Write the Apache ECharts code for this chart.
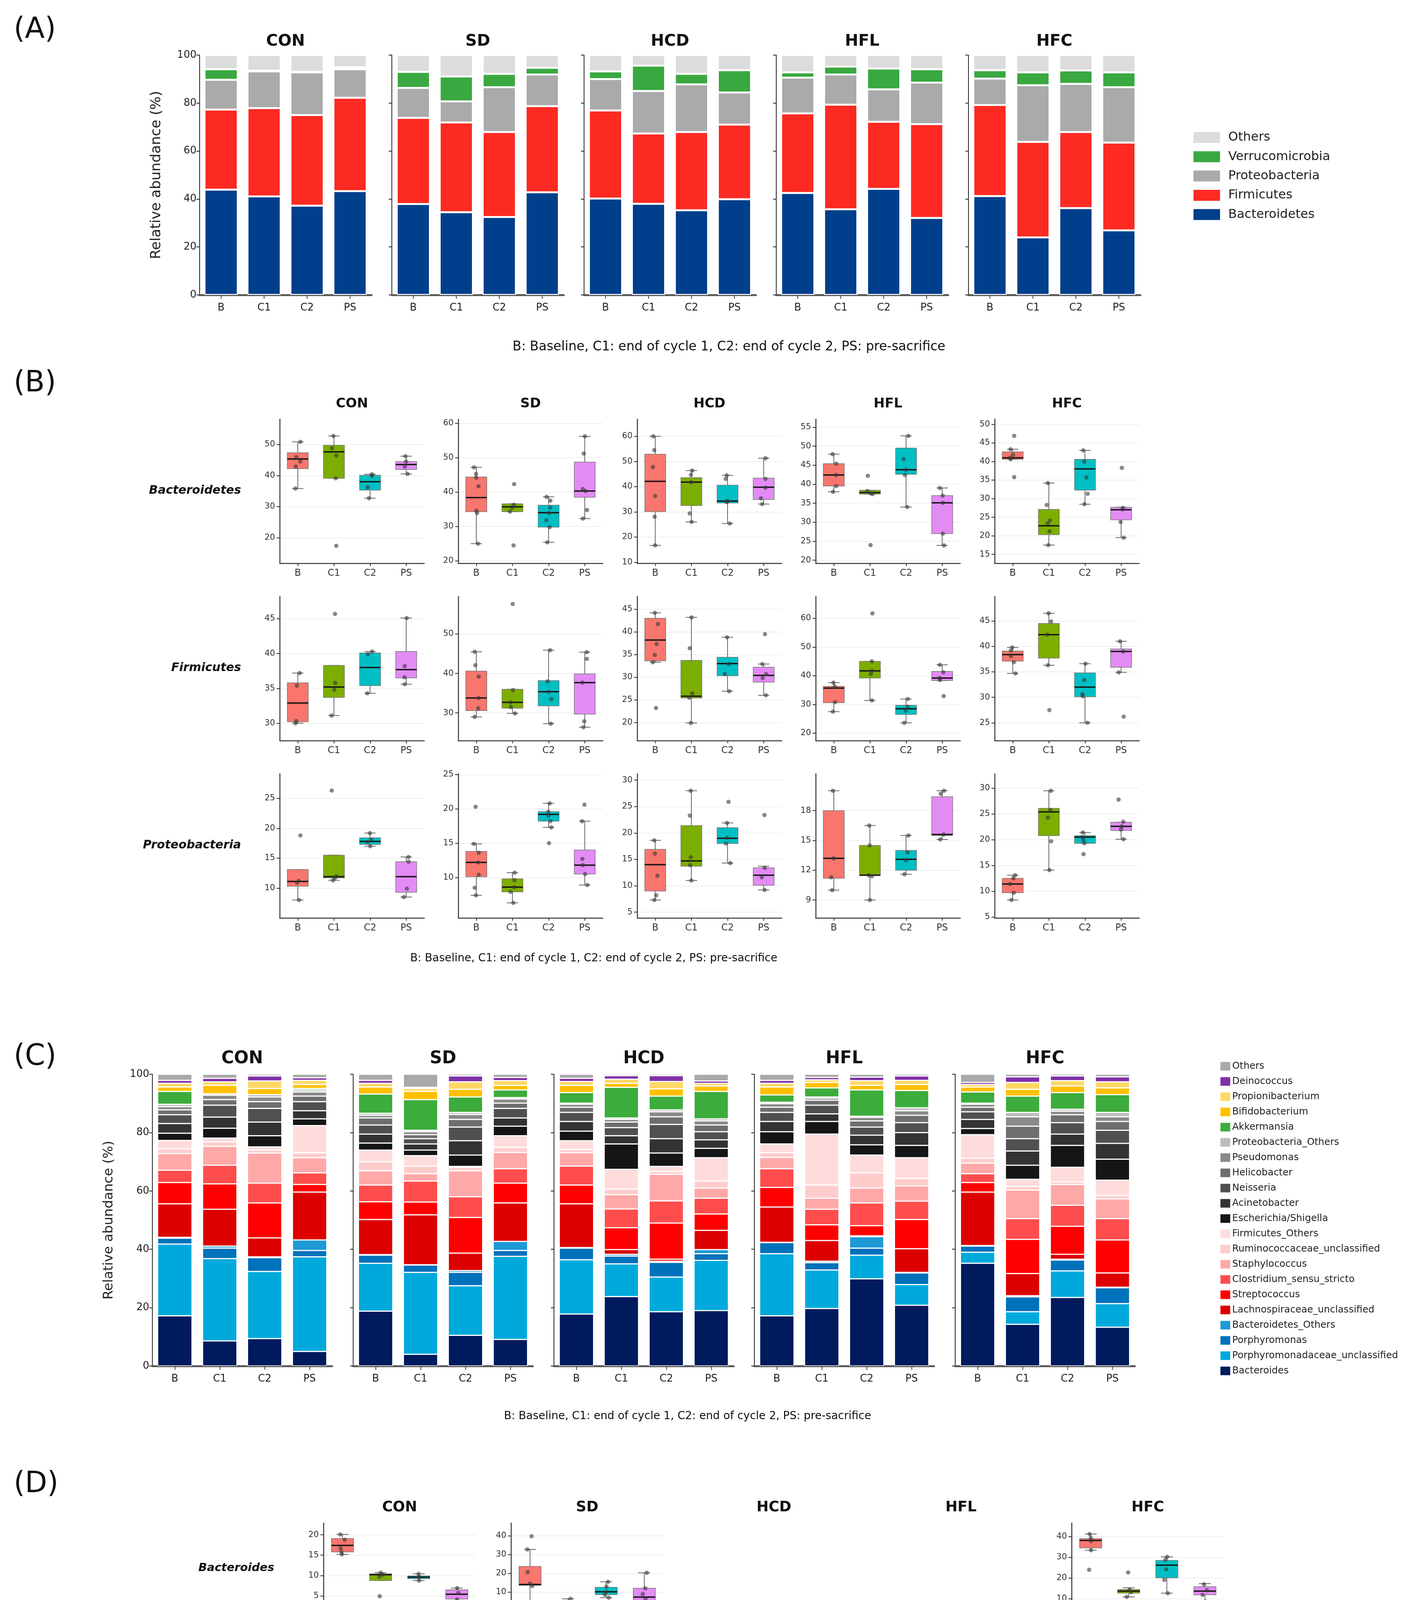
<!DOCTYPE html>
<html>
<head>
<meta charset="utf-8">
<script src="https://cdn.jsdelivr.net/npm/echarts@6/dist/echarts.min.js"></script>
<style>
html, body { margin: 0; padding: 0; background: #fff; }
#main { width: 3622px; height: 6114px; }
</style>
</head>
<body>
<div id="main"></div>
<script>
var diets = ['CON', 'SD', 'HCD', 'HFL', 'HFC'];
var timepoints = ['B', 'C1', 'C2', 'PS'];
var caption = 'B: Baseline, C1: end of cycle 1, C2: end of cycle 2, PS: pre-sacrifice';

// (A) phylum level, % per bar: CON B,C1,C2,PS | SD | HCD | HFL | HFC
var aBacteroidetes   = [43.9,41.1,37.2,43.3, 37.9,34.5,32.5,42.8, 40.2,38.0,35.3,39.9, 42.5,35.7,44.2,32.1, 41.2,24.0,36.2,26.9];
var aFirmicutes      = [33.4,36.8,37.8,38.9, 35.9,37.4,35.4,35.9, 36.7,29.3,32.6,31.1, 33.2,43.6,28.0,39.1, 38.0,39.8,31.7,36.6];
var aProteobacteria  = [12.4,15.3,17.8,11.9, 12.5,8.8,18.7,13.2, 13.1,17.7,19.9,13.4, 14.9,12.6,13.5,17.3, 11.0,23.6,20.1,23.1];
var aVerrucomicrobia = [4.4,0.3,0.2,0.8, 6.7,10.4,5.6,2.8, 3.2,10.6,4.4,9.3, 2.2,3.3,8.7,5.6, 3.5,5.4,5.6,6.2];
var aOthers          = [5.9,6.5,7.0,5.1, 7.0,8.9,7.8,5.3, 6.8,4.4,7.8,6.3, 7.2,4.8,5.6,5.9, 6.3,7.2,6.4,7.2];

// (C) genus level, cumulative top of each layer (%), same bar order as (A)
var cBacteroides     = [17.2,8.6,9.4,5.0, 18.8,4.0,10.5,9.1, 17.8,23.8,18.6,19.0, 17.2,19.7,29.9,20.8, 35.2,14.3,23.5,13.3];
var cPorphUncl       = [41.8,36.8,32.4,37.4, 35.2,32.1,27.5,37.6, 36.4,35.0,30.5,36.2, 38.5,32.9,38.0,27.9, 39.0,18.6,32.6,21.4];
var cPorphyromonas   = [43.8,40.4,37.1,39.6, 38.0,34.6,32.1,39.6, 40.4,37.7,35.5,38.5, 42.3,35.4,40.4,31.9, 41.1,23.7,36.3,26.8];
var cBactOthers      = [44.1,41.1,37.4,43.2, 38.2,34.7,32.7,42.7, 40.6,38.3,35.9,39.9, 42.4,35.9,44.3,32.1, 41.3,24.1,36.6,27.0];
var cLachnoUncl      = [55.6,53.7,43.9,59.6, 50.2,51.8,38.7,55.9, 55.6,39.9,36.6,46.5, 54.5,43.0,44.6,40.2, 59.6,31.7,38.3,31.9];
var cStreptococcus   = [62.9,62.4,55.9,62.2, 56.3,56.2,50.9,62.7, 62.0,47.4,49.0,52.1, 61.2,48.4,48.1,50.2, 62.9,43.4,47.9,43.2];
var cClostridium     = [67.1,68.8,62.7,66.2, 62.0,63.4,58.0,67.6, 68.5,53.8,56.6,57.5, 67.6,53.7,55.9,56.5, 65.9,50.5,55.1,50.5];
var cStaphylococcus  = [72.8,75.3,73.0,71.4, 66.9,65.9,66.9,73.2, 73.1,58.7,65.7,61.0, 71.5,57.5,61.0,61.7, 69.5,60.3,62.2,57.3];
var cRuminoUncl      = [74.4,76.8,74.0,73.1, 70.0,68.5,68.1,74.9, 74.2,60.6,66.7,63.4, 73.1,62.0,66.2,64.3, 71.2,61.5,63.1,58.4];
var cFirmOthers      = [77.3,78.1,75.1,82.4, 74.0,72.1,68.4,78.9, 77.2,67.4,68.4,71.4, 76.1,79.5,72.3,71.4, 79.3,64.0,68.1,63.7];
var cEscherichia     = [79.8,81.5,78.9,84.7, 76.4,74.0,72.3,82.2, 80.5,76.1,73.0,74.6, 80.3,83.8,75.8,75.6, 81.4,68.8,75.6,70.9];
var cAcinetobacter   = [83.1,85.3,83.6,87.5, 79.5,76.1,77.2,85.0, 83.8,78.9,77.9,77.5, 83.8,86.4,79.1,80.0, 84.5,73.7,79.5,76.3];
var cNeisseria       = [86.1,89.4,88.3,90.6, 82.6,77.9,81.9,88.3, 86.9,81.7,82.8,80.3, 86.9,89.4,81.9,83.4, 87.1,77.9,83.4,80.8];
var cHelicobacter    = [87.8,91.3,90.6,92.5, 85.0,79.3,84.5,90.1, 88.7,83.6,85.4,82.6, 88.7,91.1,84.0,85.9, 88.7,82.2,86.1,83.8];
var cPseudomonas     = [88.9,92.8,92.2,93.9, 85.9,80.3,86.2,91.5, 89.7,84.5,87.1,84.0, 89.9,91.8,85.2,87.5, 89.7,85.4,87.3,85.4];
var cProteoOthers    = [89.7,93.3,93.0,94.6, 86.6,80.8,86.9,92.0, 90.1,85.0,87.8,84.7, 90.4,92.2,85.6,88.5, 90.1,86.9,88.0,86.9];
var cAkkermansia     = [94.1,93.3,93.0,95.1, 93.2,91.3,92.2,94.6, 93.7,95.5,92.5,94.1, 92.9,95.3,94.6,94.4, 93.9,92.5,93.7,93.0];
var cBifido          = [95.6,96.2,95.1,96.5, 95.6,94.1,94.8,96.2, 96.2,96.9,95.0,96.0, 95.6,97.2,96.2,96.5, 95.6,94.8,96.0,95.3];
var cPropioni        = [96.9,97.4,97.7,97.9, 96.9,95.1,97.4,97.8, 97.5,98.3,97.5,96.9, 96.9,98.1,97.8,97.9, 96.5,97.2,97.8,97.4];
var cDeinococcus     = [97.9,98.6,99.4,98.8, 97.9,95.5,99.4,98.9, 98.6,99.5,99.5,97.7, 97.9,98.9,99.0,99.4, 97.2,99.1,99.4,99.1];

// (B) phyla boxplots: per diet, per timepoint [min, q1, median, q3, max]
var bBacteroidetesBox = [
  [[35.8,42.2,45.3,47.3,50.8],[39.1,39.1,47.6,49.7,52.7],[32.7,35.3,38.0,40.1,40.4],[40.5,41.9,43.5,44.5,46.2]],
  [[25.0,34.3,38.4,44.4,47.2],[34.3,34.3,35.7,36.6,36.6],[25.4,29.8,34.0,36.2,38.6],[32.3,38.5,40.3,48.7,56.2]],
  [[16.7,30.1,42.1,52.9,60.0],[26.0,32.5,41.8,43.6,46.4],[25.4,33.5,34.3,40.6,44.5],[33.1,34.9,39.8,43.4,51.3]],
  [[38.0,39.5,42.4,45.4,47.9],[37.4,37.4,37.8,38.4,38.4],[34.0,42.6,43.8,49.5,52.7],[23.9,27.0,35.1,37.0,39.0]],
  [[40.6,40.6,41.0,42.6,43.3],[17.5,20.3,22.7,27.1,34.2],[28.5,32.3,38.0,40.6,43.0],[19.5,24.3,27.0,27.7,27.7]]
];
var bBacteroidetesPts = [
  [[50.8,45.9,44.5,42.9,35.8],[52.7,48.8,46.4,39.1,17.4],[40.4,39.9,36.2,32.7],[46.2,44.5,42.9,40.5]],
  [[47.2,45.3,44.2,41.7,34.6,33.9,25.0],[42.3,36.3,35.5,34.3,24.5],[38.6,37.5,35.5,33.9,31.8,29.8,25.4],[56.2,51.2,40.9,40.3,34.8,32.3]],
  [[60.0,54.5,47.8,36.3,28.1,16.7],[46.4,44.7,41.8,29.4,26.0],[44.5,43.1,34.4,33.9,25.4],[51.3,43.1,39.6,35.4,33.1]],
  [[47.9,45.4,42.4,39.5,38.0],[42.2,38.2,37.6,37.4,24.0],[52.7,46.6,43.8,42.4,34.0],[39.0,37.0,35.1,27.0,23.9]],
  [[46.9,43.3,41.8,41.0,40.6,35.8],[34.2,28.3,24.1,23.3,21.2,17.5],[43.0,40.0,35.7,31.3,28.5],[38.3,27.5,27.1,23.7,19.5]]
];
var bBacteroidetesRange = [[11.8,58.1],[19.3,61.2],[9.6,66.8],[19.2,57.1],[12.6,51.4]];
var bBacteroidetesTicks = [[20,30,40,50],[20,30,40,50,60],[10,20,30,40,50,60],[20,25,30,35,40,45,50,55],[15,20,25,30,35,40,45,50]];

var bFirmicutesBox = [
  [[30.0,30.2,32.9,35.8,37.2],[31.1,33.7,35.2,38.3,38.3],[34.3,35.4,38.0,40.1,40.3],[35.6,36.5,37.7,40.3,45.1]],
  [[29.0,30.6,33.8,40.6,45.5],[29.9,31.2,32.7,36.0,36.0],[27.3,31.8,35.4,38.2,45.9],[26.4,29.7,37.7,39.9,45.4]],
  [[33.3,33.6,38.2,43.0,44.2],[19.9,25.4,25.8,33.7,43.2],[26.9,30.3,33.0,34.4,38.8],[26.0,28.9,30.4,32.2,32.9]],
  [[27.5,30.6,35.7,36.3,37.6],[31.4,39.2,41.7,45.0,45.0],[23.6,26.5,28.5,29.7,31.9],[38.3,38.3,39.2,41.5,43.8]],
  [[34.7,37.1,38.4,39.1,39.8],[36.3,37.7,42.3,44.5,46.5],[25.0,30.1,32.0,34.8,36.6],[34.9,35.9,39.0,39.5,41.0]]
];
var bFirmicutesPts = [
  [[37.2,35.4,30.3,30.0],[45.7,35.8,34.8,31.1],[40.3,39.9,34.3],[45.1,38.2,36.6,35.6]],
  [[45.5,42.1,39.2,33.8,31.2,29.0],[57.6,35.8,32.7,31.5,29.9],[45.9,38.0,35.4,33.5,27.3],[45.4,43.7,37.7,27.9,26.4]],
  [[44.2,41.7,37.3,34.9,33.3,23.2],[43.2,36.4,26.4,25.5,19.9],[38.8,32.9,30.7,26.9],[39.5,32.9,30.7,29.8,26.0]],
  [[37.6,36.2,30.8,27.5],[61.7,45.0,41.7,40.6,31.4],[31.9,29.2,27.8,23.6],[43.8,41.2,39.2,38.5,32.9]],
  [[39.8,39.2,38.1,36.9,34.7],[46.5,44.9,42.3,36.3,27.5],[36.6,33.4,30.6,30.2,25.0],[41.0,39.0,34.9,26.2]]
];
var bFirmicutesRange = [[27.5,48.2],[23.0,59.5],[16.0,47.8],[17.4,67.6],[21.5,49.8]];
var bFirmicutesTicks = [[30,35,40,45],[30,40,50],[20,25,30,35,40,45],[20,30,40,50,60],[25,30,35,40,45]];

var bProteobacteriaBox = [
  [[8.0,10.3,11.1,13.1,13.1],[11.3,11.7,11.9,15.5,15.5],[17.0,17.3,17.8,18.4,19.2],[8.5,9.3,11.9,14.4,15.2]],
  [[7.4,10.1,12.2,13.8,14.9],[6.3,7.9,8.6,9.8,10.7],[17.3,18.2,19.2,19.6,20.8],[8.9,10.5,11.8,14.0,18.2]],
  [[7.3,9.0,14.0,16.9,18.6],[11.0,13.7,14.7,21.4,28.0],[14.3,18.0,19.0,21.0,21.9],[9.2,10.1,12.0,13.4,13.7]],
  [[10.0,11.2,13.2,18.0,20.0],[9.0,11.5,11.5,14.5,16.5],[11.6,12.0,13.1,14.0,15.5],[15.1,15.5,15.6,19.4,20.0]],
  [[8.3,9.7,11.4,12.5,13.1],[14.1,20.8,25.4,26.1,29.5],[19.3,19.3,20.5,20.8,21.4],[20.1,21.8,22.6,23.4,23.4]]
];
var bProteobacteriaPts = [
  [[18.8,11.2,10.9,8.0],[26.3,12.0,11.7,11.3],[19.2,18.1,17.7,17.0],[15.2,14.4,9.9,8.5]],
  [[20.3,14.9,13.6,12.2,10.4,8.5,7.4],[10.7,9.6,8.6,7.9,6.3],[20.8,19.6,19.0,18.2,17.3,15.0],[20.6,18.2,12.7,11.8,10.5,8.9]],
  [[18.6,16.1,11.9,8.2,7.3],[28.0,23.3,15.4,13.9,11.0],[25.9,21.9,19.1,18.0,14.3],[23.4,13.4,11.6,9.2]],
  [[20.0,13.2,11.3,10.0],[16.5,14.5,11.5,11.4,9.0],[15.5,13.8,13.0,11.6],[20.0,19.7,15.6,15.1]],
  [[13.1,12.5,11.4,9.7,8.3],[29.5,25.8,24.3,19.7,14.1],[21.4,20.5,19.9,19.3,17.2],[27.8,23.5,22.6,22.0,20.1]]
];
var bProteobacteriaRange = [[5.0,29.1],[4.1,25.1],[3.9,31.2],[7.2,21.7],[4.8,32.8]];
var bProteobacteriaTicks = [[10,15,20,25],[10,15,20,25],[5,10,15,20,25,30],[9,12,15,18],[5,10,15,20,25,30]];

// (D) genus boxplots, null where a diet has no panel
var dBacteroidesBox = [
  [[15.2,15.8,17.4,19.1,20.1],[8.75,8.75,10.2,10.4,10.7],[8.75,9.2,9.6,9.9,10.4],[3.5,4.2,5.4,6.5,6.9]],
  [[4.3,13.6,14.1,23.7,32.7],[3.7,3.7,4.8,5.7,6.5],[7.1,8.7,10.2,12.6,15.5],[4.0,5.3,7.4,12.1,20.3]],
  null, null,
  [[33.4,34.5,38.1,39.0,41.2],[10.9,12.7,13.7,14.5,15.3],[12.7,20.1,26.2,28.5,30.2],[8.6,11.9,13.7,15.8,17.3]]
];
var dBacteroidesPts = [
  [[20.1,18.8,16.7,15.8,15.2],[10.7,10.2,9.7,4.9],[10.4,9.7,8.75],[6.9,5.7,4.1,3.5]],
  [[39.7,32.7,20.6,14.6,13.3,4.3],[6.5,4.8,4.0,0.9],[15.5,13.0,10.2,8.7,7.1],[20.3,12.1,9.0,6.4,4.0]],
  null, null,
  [[41.2,39.3,37.8,33.4,24.0],[22.7,14.4,13.2,10.9],[30.2,28.8,24.2,19.1,12.7],[17.0,14.1,11.9,8.6]]
];
var dBacteroidesRange = [[0.8,22.9],[-1,46.7],null,null,[3.2,46.5]];
var dBacteroidesTicks = [[5,10,15,20],[0,10,20,30,40],null,null,[10,20,30,40]];

var dEscherichiaBox = [
  null,
  [[1.4,1.91,2.6,2.83,3.11],[1.57,1.77,1.9,2.03,2.1],[3.54,4.06,4.26,4.43,5.06],[2.06,2.34,2.69,3.69,5.06]],
  [[1.4,2.0,3.0,4.0,4.3],[4.85,6.56,9.0,9.75,10.1],[3.7,4.56,4.85,5.64,6.39],[2.68,3.0,3.7,4.39,4.73]],
  null,
  [[1.55,1.97,2.25,2.49,2.58],[3.29,4.08,4.6,5.16,5.31],[4.13,6.1,7.5,8.22,8.6],[4.13,5.73,6.53,9.53,10.8]]
];
var dEscherichiaPts = [
  null,
  [[4.4,3.1,2.55,2.0,1.4],[2.71,2.03,1.85,1.57],[5.06,4.49,4.2,3.54],[7.83,5.06,3.29,2.63,2.06]],
  [[8.4,4.3,3.1,2.0,1.4],[14.8,10.0,9.0,5.9,4.85],[6.39,5.4,4.7,3.7],[4.73,3.8,3.1,2.68]],
  null,
  [[3.76,2.44,2.11,1.55],[8.92,5.16,4.46,3.29],[12.2,8.6,7.6,5.87,4.13],[10.8,10.5,6.8,6.3,4.13]]
];
var dEscherichiaRange = [null,[0.34,8.97],[0,17.2],null,[0,14.2]];
var dEscherichiaTicks = [null,[2,4,6,8],[0,5,10,15],null,[0,5,10]];

var dStreptococcusBox = [
  null,
  [[3.38,4.72,6.16,7.82,10.0],[3.9,3.9,4.66,5.0,5.5],[11.9,11.9,12.6,12.9,13.6],[4.2,5.8,7.0,9.1,10.0]],
  [[3.68,4.66,6.44,8.39,8.74],[4.66,5.11,5.98,10.46,12.1],[11.72,11.72,12.18,12.87,13.16],[3.97,4.66,5.69,6.84,7.53]],
  null,
  [[0.24,0.96,4.04,5.54,7.35],[8.98,10.3,11.8,13.8,15.0],[7.35,7.65,10.0,11.57,12.4],[8.98,10.06,10.96,12.17,12.3]]
];
var dStreptococcusPts = [
  null,
  [[13.1,10.0,7.1,5.5,3.38,0.16],[6.75,5.0,4.4,3.9,1.66],[13.6,12.9,12.3,11.1,10.2],[13.7,10.0,8.2,6.9,4.2,0.16]],
  [[8.74,8.39,6.55,5.11,3.68],[12.1,11.84,6.5,5.69,4.66],[16.5,13.0,12.4,11.84,9.4],[7.53,6.55,5.69,4.25,3.97]],
  null,
  [[7.35,5.54,4.04,3.25,0.24],[15.0,12.9,11.7,10.5,8.98],[12.4,11.57,9.4,7.5],[15.4,12.17,11.1,10.06,8.98]]
];
var dStreptococcusRange = [null,[0,16.1],[1.5,18.8],null,[0,18.2]];
var dStreptococcusTicks = [null,[0,5,10,15],[5,10,15],null,[0,5,10,15]];

var dHelicobacterBox = [
  null,
  [[0.92,1.32,1.64,1.93,2.85],[0.95,1.06,1.21,1.35,1.49],[1.97,2.37,2.6,2.71,2.79],[1.0,1.34,1.38,1.69,1.84]],
  null,
  [[1.5,1.61,1.74,1.84,1.84],[1.25,1.25,1.29,1.36,1.4],[1.25,1.39,1.53,1.71,2.06],[1.82,2.01,2.16,2.86,3.05]],
  [[0.95,1.27,1.43,1.67,1.83],[1.8,3.0,5.9,9.2,15.7],[1.6,2.06,2.46,2.86,3.35],[1.6,2.3,2.86,3.25,3.25]]
];
var dHelicobacterPts = [
  null,
  [[2.85,1.95,1.8,1.55,1.2,0.92],[1.5,1.35,1.2,1.05,0.95],[2.79,2.7,2.6,2.5,2.15,1.97],[2.79,1.84,1.6,1.4,1.35,1.0]],
  null,
  [[2.53,1.84,1.7,1.5],[2.29,1.38,1.3,1.25,0.86],[2.06,1.7,1.55,1.45,1.25],[3.05,2.2,2.1,1.82]],
  [[1.8,1.5,1.3,0.95],[15.7,9.8,7.5,4.5,1.8],[4.6,2.9,2.5,2.1,1.6],[4.6,3.2,2.9,2.4,1.6]]
];
var dHelicobacterRange = [null,[0.59,3.18],null,[0.45,3.43],[0,18.2]];
var dHelicobacterTicks = [null,[1,2,3],null,[1,2,3],[0,5,10,15]];

var dAcinetobacterBox = [
  null,
  [[1.88,2.39,3.04,4.0,5.46],[1.93,1.93,2.16,2.39,2.65],[4.27,4.76,5.33,5.43,5.51],[2.0,2.52,2.78,3.22,3.7]],
  [[1.72,2.4,3.19,3.7,4.31],[1.62,1.86,2.03,3.8,4.83],[3.63,4.55,4.96,5.27,5.4],[1.86,2.3,2.44,2.67,2.88]],
  null,
  [[2.19,2.86,3.08,3.29,3.75],[3.08,3.42,4.45,5.65,6.56],[2.28,2.92,4.15,4.91,5.06],[3.08,4.67,5.58,6.1,7.3]]
];
var dAcinetobacterPts = [
  null,
  [[5.46,4.3,3.6,3.2,2.8,2.2,1.88],[2.65,2.4,2.2,2.0,1.13],[5.5,5.35,5.2,4.27,3.73],[5.38,3.7,3.2,2.8,2.5,2.0]],
  [[4.31,4.0,3.2,2.5,1.72],[4.83,4.5,2.1,1.9,1.62],[7.35,5.4,5.0,4.7,3.63],[4.55,2.8,2.5,2.3,1.86]],
  null,
  [[3.75,3.3,3.1,2.9,2.19],[6.56,5.1,4.4,3.5,3.08],[5.06,4.8,3.7,2.9,2.28],[7.3,6.05,5.2,4.7,3.08]]
];
var dAcinetobacterRange = [null,[0.3,6.23],[0.53,8.38],null,[1.2,8.24]];
var dAcinetobacterTicks = [null,[2,4,6],[2,4,6,8],null,[2,4,6,8]];

var dLachnoBox = [
  null, null,
  [[9.0,11.7,14.7,17.5,23.8],[0,0.74,2.35,3.1,3.9],[0,0,0.9,2.5,3.2],[3.2,4.3,4.8,8.1,12.5]],
  null,
  [[13.2,16.0,18.2,18.7,18.8],[1.0,3.6,6.7,12.3,15.2],[0.1,0.1,0.5,2.4,3.2],[0.2,3.6,4.5,7.0,9.6]]
];
var dLachnoPts = [
  null, null,
  [[23.8,17.4,15.5,12.5,11.5,9.0],[3.9,3.2,2.5,1.8,0.5],[3.2,2.4,1.2,0.5,0],[12.5,8.5,5.2,4.0,3.2]],
  null,
  [[25.1,18.8,18.0,16.0,13.2],[15.2,10.5,7.0,4.0,1.0],[7.2,3.0,1.0,0.3],[9.6,7.5,5.0,4.2,0.2]]
];
var dLachnoRange = [null,null,[0,28.4],null,[0,29.9]];
var dLachnoTicks = [null,null,[0,10,20],null,[0,10,20]];

var dPorphUnclBox = [
  null, null, null,
  [[7.0,15.1,21.0,25.8,36.4],[11.2,11.2,12.6,14.3,15.1],[0.6,5.7,8.9,11.2,14.3],[1.5,2.4,4.9,8.4,16.8]],
  null
];
var dPorphUnclPts = [
  null, null, null,
  [[36.4,25.8,21.0,15.1,7.0],[22.0,14.5,12.5,11.5,5.3],[14.3,11.0,9.0,6.0,0.6],[16.8,8.0,5.0,3.0,1.5]],
  null
];
var dPorphUnclRange = [null,null,null,[0,43.4],null];
var dPorphUnclTicks = [null,null,null,[0,10,20,30,40],null];

// ---------- styles / layout ----------
var FONT = 'DejaVu Sans';
var boxFill = ['#F8766D', '#7CAE00', '#00BFC4', '#E38BF5'];
var aNames = ['Bacteroidetes', 'Firmicutes', 'Proteobacteria', 'Verrucomicrobia', 'Others'];
var aColors = ['#003f8c', '#fc2a22', '#aaaaaa', '#3aa840', '#dcdcdc'];
var cNames = ['Bacteroides', 'Porphyromonadaceae_unclassified', 'Porphyromonas', 'Bacteroidetes_Others',
  'Lachnospiraceae_unclassified', 'Streptococcus', 'Clostridium_sensu_stricto', 'Staphylococcus',
  'Ruminococcaceae_unclassified', 'Firmicutes_Others', 'Escherichia/Shigella', 'Acinetobacter', 'Neisseria',
  'Helicobacter', 'Pseudomonas', 'Proteobacteria_Others', 'Akkermansia', 'Bifidobacterium',
  'Propionibacterium', 'Deinococcus', 'Others (genus)'];
var cColors = ['#001a5e', '#00a9dc', '#0071bb', '#1e9ad6', '#dd0000', '#ff0000', '#ff4d4d', '#ffa8a8',
  '#ffcccc', '#ffdcdc', '#151515', '#333333', '#505050', '#6e6e6e', '#8a8a8a', '#bdbdbd',
  '#3cac3c', '#ffc000', '#ffd966', '#8031a7', '#a9a9a9'];

var grid = [], xAxis = [], yAxis = [], series = [], graphic = [];

function addGrid(box, xOpt, yOpt) {
  var i = grid.length;
  grid.push({ left: box[0], top: box[1], width: box[2], height: box[3] });
  xAxis.push(Object.assign({ gridIndex: i, type: 'category', data: timepoints }, xOpt));
  yAxis.push(Object.assign({ gridIndex: i, type: 'value' }, yOpt));
  return i;
}

function text(x, y, s, size, extra) {
  graphic.push({
    type: 'text', x: x, y: y, silent: true,
    style: Object.assign({
      text: s, fontSize: size, fontFamily: FONT, fill: '#111',
      textAlign: 'center', textVerticalAlign: 'middle', align: 'center', verticalAlign: 'middle'
    }, extra || {})
  });
}

function stackedPanel(box, d, showLabels, layers, colors, names, o) {
  var g = addGrid(box, {
    axisLine: { onZero: false, lineStyle: { color: '#5a5a5a', width: 5 } },
    axisTick: { show: true, alignWithLabel: true, length: 10, lineStyle: { color: '#444', width: 2 } },
    axisLabel: { fontSize: o.label, color: '#222', margin: 20, fontFamily: FONT }
  }, {
    min: 0, max: 100, interval: 20,
    name: showLabels ? 'Relative abundance (%)' : '',
    nameLocation: 'middle', nameGap: o.nameGap, nameRotate: 90,
    nameTextStyle: { fontSize: o.nameSize, color: '#222', fontFamily: FONT },
    axisLine: { show: true, lineStyle: { color: '#222', width: 2 } },
    axisTick: { show: true, length: 8, lineStyle: { color: '#222', width: 2 } },
    axisLabel: { show: showLabels, fontSize: o.label, color: '#222', fontFamily: FONT },
    splitLine: { show: false }
  });
  layers.forEach(function (vals, k) {
    series.push({
      type: 'bar', name: names[k], xAxisIndex: g, yAxisIndex: g, stack: 'st' + g,
      barWidth: o.barWidth, data: vals.slice(d * 4, d * 4 + 4),
      itemStyle: { color: colors[k], borderColor: '#fff', borderWidth: o.border }
    });
  });
}

function renderBox(params, api) {
  var t = api.value(0);
  var p = [1, 2, 3, 4, 5].map(function (k) { return api.coord([t, api.value(k)]); });
  var x = p[0][0];
  var w = api.size([1, 0])[0] * 0.58;
  var wc = w * 0.27;
  var ln = { stroke: '#666', lineWidth: 2 };
  return {
    type: 'group', children: [
      { type: 'line', shape: { x1: x, y1: p[4][1], x2: x, y2: p[3][1] }, style: ln },
      { type: 'line', shape: { x1: x, y1: p[1][1], x2: x, y2: p[0][1] }, style: ln },
      { type: 'line', shape: { x1: x - wc, y1: p[4][1], x2: x + wc, y2: p[4][1] }, style: ln },
      { type: 'line', shape: { x1: x - wc, y1: p[0][1], x2: x + wc, y2: p[0][1] }, style: ln },
      { type: 'rect', shape: { x: x - w / 2, y: p[3][1], width: w, height: p[1][1] - p[3][1] },
        style: { fill: boxFill[t], stroke: '#777', lineWidth: 1.5 } },
      { type: 'line', shape: { x1: x - w / 2, y1: p[2][1], x2: x + w / 2, y2: p[2][1] }, style: { stroke: '#151515', lineWidth: 3.5 } }
    ]
  };
}

function boxPanel(box, stats, pts, range, ticks, o) {
  var g = addGrid(box, {
    jitter: o.jitter, jitterOverlap: true,
    axisLine: { onZero: false, lineStyle: { color: '#333', width: 2.5 } },
    axisTick: { show: true, alignWithLabel: true, length: 7, lineStyle: { color: '#333', width: 2 } },
    axisLabel: { fontSize: o.xLabel, color: '#333', margin: 14, fontFamily: FONT }
  }, {
    min: range[0], max: range[1],
    axisLine: { show: true, lineStyle: { color: '#333', width: 2.5 } },
    axisTick: { show: true, length: 8, lineStyle: { color: '#333', width: 2 }, customValues: ticks },
    axisLabel: { fontSize: o.yLabel, color: '#333', margin: 12, fontFamily: FONT, customValues: ticks },
    splitLine: { show: true, lineStyle: { color: '#efefef', width: 2 } }
  });
  series.push({
    type: 'custom', xAxisIndex: g, yAxisIndex: g, z: 2, renderItem: renderBox,
    encode: { x: 0, y: [1, 2, 3, 4, 5] },
    data: stats.map(function (s, t) { return [t].concat(s); })
  });
  var dots = [];
  pts.forEach(function (arr, t) { arr.forEach(function (v) { dots.push([t, v]); }); });
  series.push({
    type: 'scatter', xAxisIndex: g, yAxisIndex: g, z: 3, data: dots, symbolSize: o.dot,
    itemStyle: { color: 'rgba(55,55,55,0.75)' }
  });
}

// ---------- (A) ----------
var aLeft = [511, 1003, 1495, 1987, 2479];
var aOpt = { label: 26, nameGap: 92, nameSize: 36, barWidth: 85, border: 2.5 };
text(35, 78, '(A)', 74, { textAlign: 'left', align: 'left' });
diets.forEach(function (d, i) {
  stackedPanel([aLeft[i], 141, 440, 614], i, i === 0,
    [aBacteroidetes, aFirmicutes, aProteobacteria, aVerrucomicrobia, aOthers], aColors, aNames, aOpt);
  text(aLeft[i] + 220, 106, d, 41, { fontWeight: 'bold' });
});
text(1866, 888, caption, 33);

// ---------- (B) ----------
var bLeft = [716, 1173, 1631, 2088, 2546];
var bTop = [1073, 1527, 1981];
var bOpt = { xLabel: 24, yLabel: 21, dot: 11, jitter: 14 };
var bRows = [
  ['Bacteroidetes', bBacteroidetesBox, bBacteroidetesPts, bBacteroidetesRange, bBacteroidetesTicks],
  ['Firmicutes', bFirmicutesBox, bFirmicutesPts, bFirmicutesRange, bFirmicutesTicks],
  ['Proteobacteria', bProteobacteriaBox, bProteobacteriaPts, bProteobacteriaRange, bProteobacteriaTicks]
];
text(35, 983, '(B)', 74, { textAlign: 'left', align: 'left' });
diets.forEach(function (d, i) { text(bLeft[i] + 185, 1034, d, 34, { fontWeight: 'bold' }); });
bRows.forEach(function (row, r) {
  text(617, bTop[r] + 183, row[0], 30, { textAlign: 'right', align: 'right', fontWeight: 'bold', fontStyle: 'italic' });
  diets.forEach(function (d, i) {
    boxPanel([bLeft[i], bTop[r], 370, 369], row[1][i], row[2][i], row[3][i], row[4][i], bOpt);
  });
});
text(1520, 2454, caption, 28);

// ---------- (C) ----------
var cLeft = [390, 904, 1418, 1931, 2445];
var cOpt = { label: 26, nameGap: 94, nameSize: 34, barWidth: 88, border: 1.5 };
var cTops = [cBacteroides, cPorphUncl, cPorphyromonas, cBactOthers, cLachnoUncl, cStreptococcus, cClostridium,
  cStaphylococcus, cRuminoUncl, cFirmOthers, cEscherichia, cAcinetobacter, cNeisseria, cHelicobacter,
  cPseudomonas, cProteoOthers, cAkkermansia, cBifido, cPropioni, cDeinococcus];
var cLayers = cTops.map(function (top, k) {
  return top.map(function (v, j) { return +(v - (k ? cTops[k - 1][j] : 0)).toFixed(2); });
});
cLayers.push(cDeinococcus.map(function (v) { return +(100 - v).toFixed(2); }));
text(35, 2707, '(C)', 74, { textAlign: 'left', align: 'left' });
diets.forEach(function (d, i) {
  stackedPanel([cLeft[i], 2750, 460, 747], i, i === 0, cLayers, cColors, cNames, cOpt);
  text(cLeft[i] + 230, 2711, d, 44, { fontWeight: 'bold' });
});
text(1760, 3626, caption, 28);

// ---------- (D) ----------
var dLeft = [828, 1308, 1786, 2265, 2743];
var dTop = [3899, 4203, 4509, 4815, 5119, 5422, 5726];
var dOpt = { xLabel: 24, yLabel: 21, dot: 11, jitter: 14 };
var dRows = [
  ['Bacteroides', dBacteroidesBox, dBacteroidesPts, dBacteroidesRange, dBacteroidesTicks],
  ['Escherichia/\nShigella', dEscherichiaBox, dEscherichiaPts, dEscherichiaRange, dEscherichiaTicks],
  ['Streptococcus', dStreptococcusBox, dStreptococcusPts, dStreptococcusRange, dStreptococcusTicks],
  ['Helicobacter', dHelicobacterBox, dHelicobacterPts, dHelicobacterRange, dHelicobacterTicks],
  ['Acinetobacter', dAcinetobacterBox, dAcinetobacterPts, dAcinetobacterRange, dAcinetobacterTicks],
  ['Lachnospiraceae_\nunclassified', dLachnoBox, dLachnoPts, dLachnoRange, dLachnoTicks],
  ['Porphyromonadaceae_\nunclassified', dPorphUnclBox, dPorphUnclPts, dPorphUnclRange, dPorphUnclTicks]
];
text(35, 3801, '(D)', 74, { textAlign: 'left', align: 'left' });
diets.forEach(function (d, i) { text(dLeft[i] + 195, 3859, d, 37, { fontWeight: 'bold' }); });
dRows.forEach(function (row, r) {
  text(702, dTop[r] + 115, row[0], 29, { textAlign: 'right', align: 'right', fontWeight: 'bold', fontStyle: 'italic', lineHeight: 34 });
  diets.forEach(function (d, i) {
    if (!row[1][i]) return;
    boxPanel([dLeft[i], dTop[r], 390, 230], row[1][i], row[2][i], row[3][i], row[4][i], dOpt);
  });
});
text(1597, 6065, caption, 29);

var chart = echarts.init(document.getElementById('main'));
chart.setOption({
  animation: false,
  backgroundColor: '#fff',
  textStyle: { fontFamily: FONT },
  grid: grid,
  xAxis: xAxis,
  yAxis: yAxis,
  legend: [
    {
      data: aNames.slice().reverse(), orient: 'vertical', left: 3050, top: 331,
      itemWidth: 68, itemHeight: 28, itemGap: 17.3, icon: 'rect', selectedMode: false,
      itemStyle: { borderWidth: 0 },
      textStyle: { fontSize: 32, lineHeight: 28, color: '#222', fontFamily: FONT, padding: [0, 0, 0, 16] }
    },
    {
      data: cNames.slice().reverse(), orient: 'vertical', left: 3119, top: 2712,
      itemWidth: 25, itemHeight: 22, itemGap: 14, icon: 'rect', selectedMode: false,
      itemStyle: { borderWidth: 0 },
      formatter: function (n) { return n.replace(' (genus)', ''); },
      textStyle: { fontSize: 24.5, lineHeight: 22, color: '#222', fontFamily: FONT, padding: 0 }
    }
  ],
  graphic: graphic,
  series: series
});
</script>
</body>
</html>
